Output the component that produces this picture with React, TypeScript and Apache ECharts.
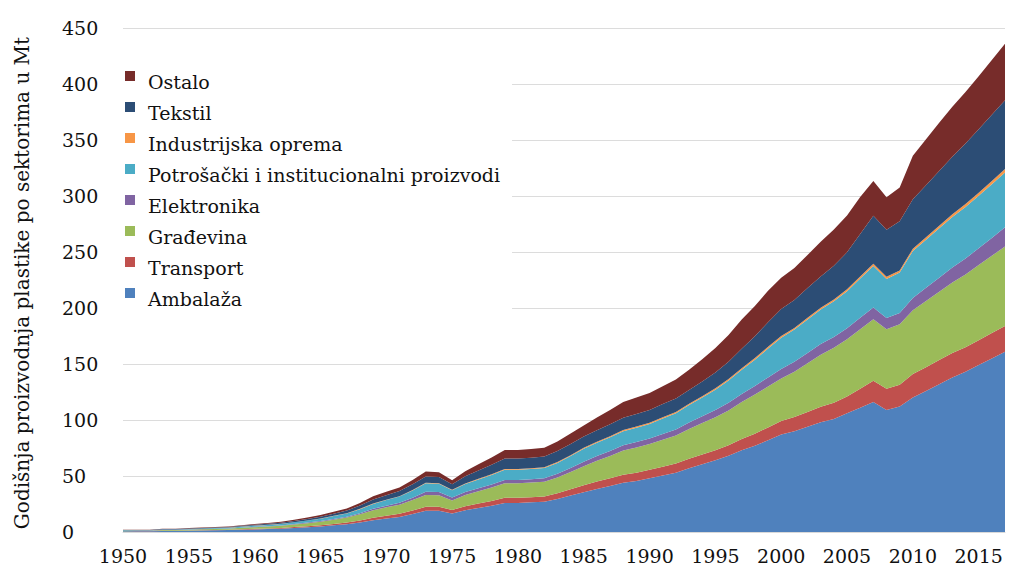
import React, { useEffect, useRef } from 'react';
import * as echarts from 'echarts';

const years = [
  '1950','1951','1952','1953','1954','1955','1956','1957','1958','1959',
  '1960','1961','1962','1963','1964','1965','1966','1967','1968','1969',
  '1970','1971','1972','1973','1974','1975','1976','1977','1978','1979',
  '1980','1981','1982','1983','1984','1985','1986','1987','1988','1989',
  '1990','1991','1992','1993','1994','1995','1996','1997','1998','1999',
  '2000','2001','2002','2003','2004','2005','2006','2007','2008','2009',
  '2010','2011','2012','2013','2014','2015','2016','2017'
];

const ambalaza = [
  0.6,0.7,0.7,1,1,1.2,1.3,1.5,1.7,2,2.3,2.6,3,3.6,4.3,5,6,7,8.5,10.5,
  12,13.5,16,19,19,16.5,19.5,21.5,23.5,26,26,26.5,27,29.5,32.5,35.5,38.5,41,44,45.5,
  48,50.5,53,57,60.5,64,68,73,77,82,87,90,94,98,101,106,111,116,109,112,
  120,126,132,138,143,149,155,161
];
const transport = [
  0.1,0.1,0.1,0.2,0.2,0.2,0.3,0.3,0.3,0.4,0.5,0.6,0.6,0.8,0.9,1,1.2,1.5,1.8,2.2,
  2.5,2.7,3.1,3.5,3.5,3.2,3.6,3.9,4.2,4.5,4.5,4.6,4.7,5.1,5.6,6.3,6.6,6.9,7.2,7.4,
  7.5,7.8,8.1,8.5,8.8,9,9.5,10,10.7,11.4,12,12.6,13.2,13.8,14.4,15,17,19,19,19.4,
  21,21.2,21.5,21.8,22,22.3,22.6,23
];
const gradevina = [
  0.4,0.4,0.4,0.6,0.6,0.7,0.8,0.9,1,1.3,1.5,1.7,1.9,2.3,2.7,3.2,3.8,4.4,5.5,6.7,
  7.5,8.2,9.4,10.5,10.3,8.5,10,11,12,13,13,13,13.2,14,15.5,17,18.5,20,21.5,22.5,
  23,24,25,26.5,28,29.5,31,33,35,36.5,38,40.5,43.5,46.5,49,51,53,55,53,54,
  57,59,61,63,65,67,69,71
];
const elektronika = [
  0.1,0.1,0.1,0.1,0.1,0.1,0.2,0.2,0.2,0.2,0.3,0.3,0.4,0.4,0.5,0.6,0.7,0.8,1,1.3,
  1.5,1.7,2.1,3,2.9,2.5,2.6,2.7,2.8,3,3,3,3.1,3.3,3.6,4,4.2,4.5,4.7,4.9,
  5,5.2,5.4,5.7,6,6.5,6.9,7.3,7.7,8.1,8.5,8.8,9.2,9.5,9.8,10,10.3,10.5,10,10.2,
  11,11.8,12.6,13.4,14.2,15,16,17
];
const potrosacki = [
  0.3,0.3,0.3,0.4,0.4,0.5,0.6,0.6,0.7,0.8,1,1.1,1.3,1.5,1.8,2.1,2.5,2.9,3.6,4.4,
  5,5.5,6.5,7.5,7.3,6.5,7.2,7.8,8.5,9,9,9.1,9.2,9.8,10.6,11.5,11.8,12.2,12.6,12.8,
  13,13.8,14.6,15.6,16.8,18,19.8,21.5,23.5,25.8,28,28.8,29.8,30.8,31.8,33,35,37,35,36,
  42,43,44,45,46,47,48,49
];
const industrijska = [
  0,0,0,0,0,0,0,0.1,0.1,0.1,0.1,0.1,0.1,0.1,0.1,0.2,0.2,0.2,0.3,0.3,
  0.4,0.4,0.5,0.5,0.5,0.5,0.5,0.6,0.6,0.7,0.7,0.7,0.7,0.8,0.8,0.9,0.9,1,1,1,
  1,1.1,1.1,1.2,1.2,1.3,1.3,1.4,1.4,1.5,1.5,1.5,1.6,1.6,1.7,1.7,1.8,1.9,1.9,1.9,
  2,2.1,2.3,2.4,2.6,2.7,2.9,3
];
const tekstil = [
  0.2,0.2,0.2,0.4,0.3,0.4,0.4,0.5,0.5,0.7,0.8,0.9,1,1.2,1.4,1.6,2,2.3,2.9,3.6,
  4,4.5,5,5.5,5.5,5,6.3,7.5,8.5,9.5,9.5,9.5,9.6,9.8,10,10,10.3,10.6,11,11.3,
  11.5,11.8,12,12.3,13,14,15.5,17.5,19.5,22,24,25,26.5,28,30,33,38,43,42,44,
  44,46.5,49,51.5,54,56.5,59,61.5
];
const ostalo = [
  0.2,0.2,0.2,0.3,0.3,0.4,0.4,0.4,0.5,0.5,0.6,0.7,0.8,1,1.2,1.4,1.6,1.9,2.4,3,
  3,3.3,3.9,4.5,4.3,3.5,4.5,5.5,6.5,7.5,7.5,7.6,7.7,8.5,9.3,10,11.5,12.8,14,14.6,
  15,16,17,18,20,22,24,26,27,28,28,28.5,29.5,31,32.5,33,33,31,29,30,
  39,41,43,44.5,46,47.5,49,50.5
];

const seriesNames = [
  'Ambalaža',
  'Transport',
  'Građevina',
  'Elektronika',
  'Potrošački i institucionalni proizvodi',
  'Industrijska oprema',
  'Tekstil',
  'Ostalo'
];
const seriesData = [ambalaza, transport, gradevina, elektronika, potrosacki, industrijska, tekstil, ostalo];
const seriesColors = ['#4F81BD', '#C0504D', '#9BBB59', '#8064A2', '#4BACC6', '#F79646', '#2C4D75', '#772C2A'];

const legendOrder = [
  'Ostalo',
  'Tekstil',
  'Industrijska oprema',
  'Potrošački i institucionalni proizvodi',
  'Elektronika',
  'Građevina',
  'Transport',
  'Ambalaža'
];

const yTitle = 'Godišnja proizvodnja plastike po sektorima u Mt';
const FONT = 'DejaVu Serif';

export default function App() {
  const ref = useRef<HTMLDivElement>(null);
  useEffect(() => {
    if (!ref.current) return;
    const chart = echarts.init(ref.current, null, { renderer: 'svg' });
    chart.setOption({
      animation: false,
      backgroundColor: '#ffffff',
      grid: { left: 123, right: 8, top: 28, bottom: 36, containLabel: false },
      xAxis: {
        type: 'category',
        data: years,
        boundaryGap: false,
        axisLine: { show: true, lineStyle: { color: '#d9d9d9', width: 1 } },
        axisTick: { show: false },
        axisLabel: {
          interval: 4,
          fontFamily: FONT,
          fontSize: 19,
          color: '#111',
          margin: 14
        },
        splitLine: { show: false }
      },
      yAxis: {
        type: 'value',
        min: 0,
        max: 450,
        interval: 50,
        axisLine: { show: false },
        axisTick: { show: false },
        axisLabel: {
          fontFamily: FONT,
          fontSize: 19,
          color: '#111',
          align: 'left',
          margin: 61
        },
        splitLine: { show: true, lineStyle: { color: '#dcdcdc', width: 1 } }
      },
      legend: {
        data: legendOrder,
        orient: 'vertical',
        left: 117,
        top: 65,
        padding: [6, 12, 6, 8],
        backgroundColor: '#ffffff',
        itemWidth: 18,
        itemHeight: 22,
        itemGap: 9,
        icon: 'path://M0,0L10,0L10,10L0,10ZM18,22L18,22',
        itemStyle: { borderWidth: 0 },
        selectedMode: false,
        textStyle: { fontFamily: FONT, fontSize: 19, color: '#111' }
      },
      graphic: [
        {
          type: 'text',
          x: 22,
          y: 283,
          rotation: Math.PI / 2,
          style: {
            text: yTitle,
            fontFamily: FONT,
            fontSize: 20,
            fill: '#111',
            textAlign: 'center',
            textVerticalAlign: 'middle'
          }
        }
      ],
      series: seriesNames.map((name, i) => ({
        name,
        type: 'line',
        stack: 'total',
        data: seriesData[i],
        showSymbol: false,
        symbol: 'none',
        color: seriesColors[i],
        itemStyle: { color: seriesColors[i] },
        lineStyle: { width: 0, color: seriesColors[i] },
        areaStyle: { color: seriesColors[i], opacity: 1 },
        emphasis: { disabled: true }
      }))
    });
    return () => chart.dispose();
  }, []);
  return (
    <div
      ref={ref}
      style={{ position: 'absolute', left: 0, top: 0, width: 1013, height: 568 }}
    />
  );
}
